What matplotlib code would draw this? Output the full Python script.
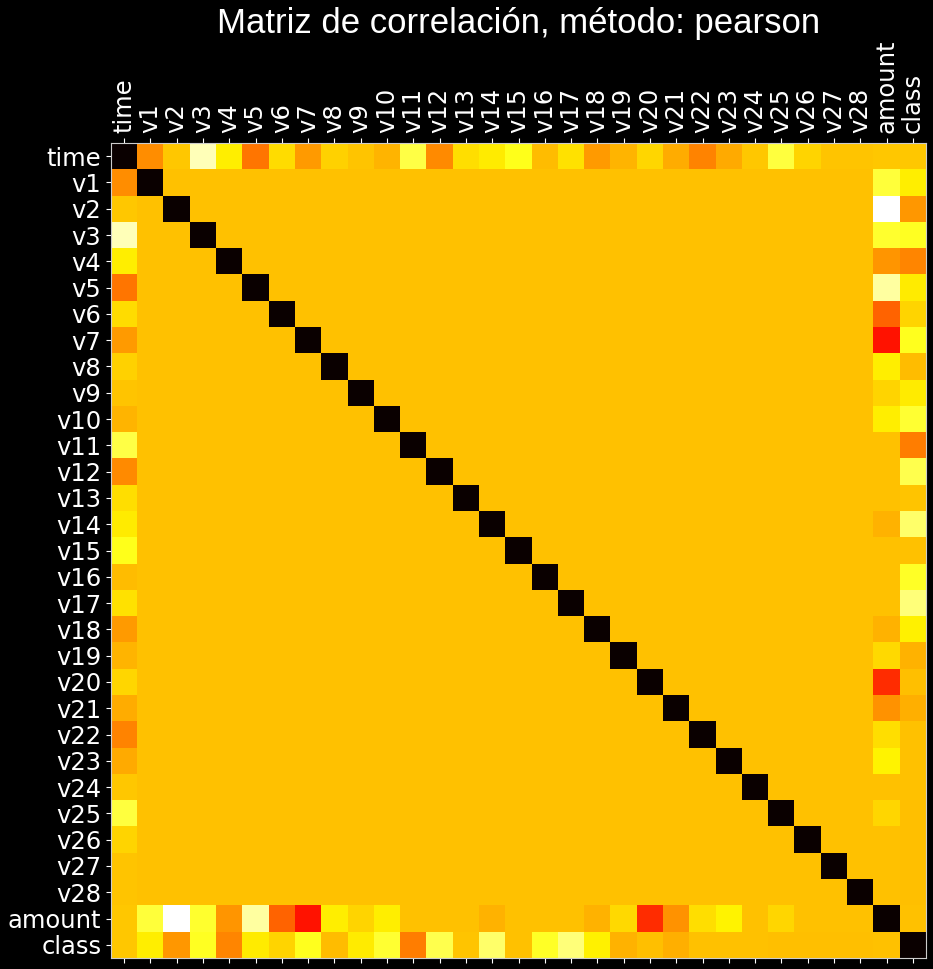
import numpy as np
import matplotlib.pyplot as plt

labels = ["time"] + ["v" + str(i) for i in range(1, 29)] + ["amount", "class"]

# correlations of time / amount / class with every column (v-v are ~0)
time_corr = [1.0, 0.117, -0.011, -0.420, -0.105, 0.173, -0.063, 0.085, -0.037, -0.009,
             0.031, -0.248, 0.124, -0.066, -0.099, -0.183, 0.012, -0.073, 0.090, 0.029,
             -0.051, 0.045, 0.144, 0.051, -0.016, -0.233, -0.041, -0.005, -0.009, -0.011,
             -0.012]
amount_corr = [-0.011, -0.228, -0.531, -0.211, 0.099, -0.386, 0.216, 0.397, -0.103, -0.044,
               -0.102, 0.000, 0.000, 0.000, 0.034, 0.000, 0.000, 0.000, 0.036, -0.056,
               0.339, 0.106, -0.065, -0.113, 0.000, -0.048, 0.000, 0.000, 0.000, 1.0,
               0.000]
class_corr = [-0.012, -0.101, 0.091, -0.193, 0.133, -0.095, -0.044, -0.187, 0.008, -0.098,
              -0.217, 0.155, -0.261, -0.005, -0.303, -0.004, -0.197, -0.326, -0.111, 0.035,
              0.005, 0.040, 0.001, -0.003, -0.003, 0.003, 0.002, 0.004, 0.003, 0.000,
              1.0]

n = len(labels)
corr = np.eye(n)
corr[0, :] = time_corr
corr[:, 0] = time_corr
corr[29, :] = amount_corr
corr[:, 29] = amount_corr
corr[30, :] = class_corr
corr[:, 30] = class_corr

fig = plt.figure(figsize=(9.33, 9.69), dpi=100, facecolor="black")
ax = fig.add_axes([111/933, 1-958/969, 815/933, 815/969])
ax.matshow(corr, cmap="hot_r", aspect="auto")

ax.set_xticks(range(n))
ax.set_yticks(range(n))
ax.set_xticklabels(labels, rotation=90, fontsize=17.5, color="white", family="DejaVu Sans")
ax.set_yticklabels(labels, fontsize=17.5, color="white", family="DejaVu Sans")
ax.tick_params(axis="both", colors="white", which="both", bottom=True, top=True)
ax.tick_params(axis="x", labelbottom=False, labeltop=True)
for sp in ax.spines.values():
    sp.set_color("#cccccc")

fig.text((111 + 815/2)/933, 1-33/969, "Matriz de correlación, método: pearson",
         color="white", fontsize=25, ha="center", va="baseline",
         family=["Liberation Sans", "DejaVu Sans"])

plt.savefig("out.png", facecolor="black")
